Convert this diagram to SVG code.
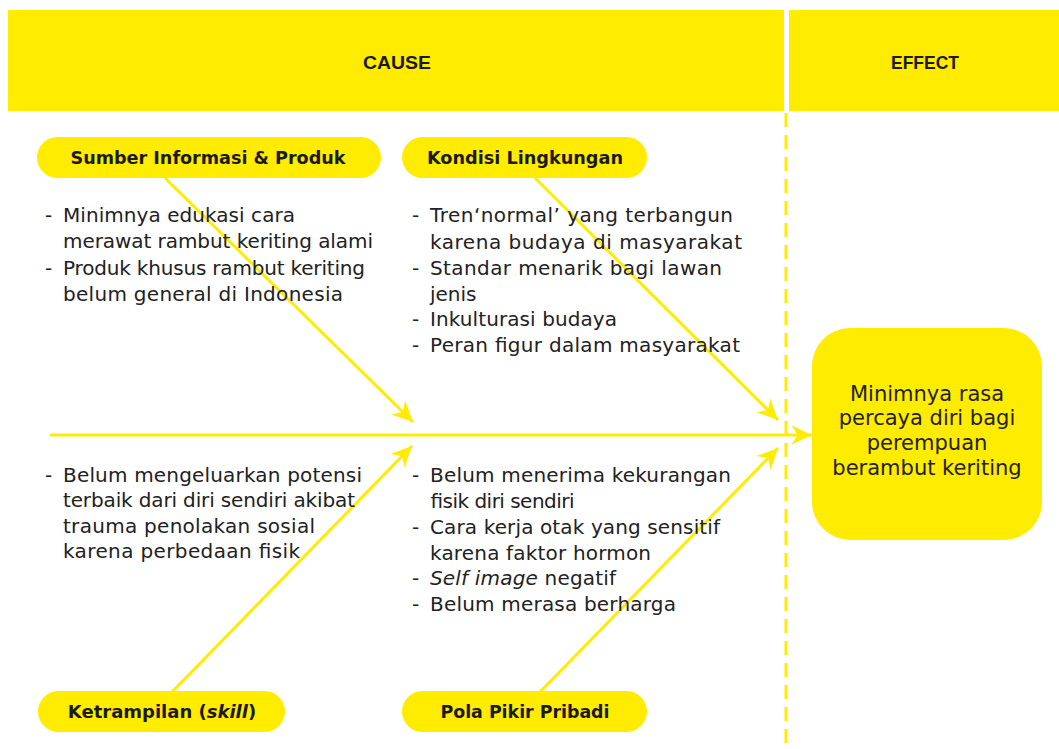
<svg xmlns="http://www.w3.org/2000/svg" width="1059" height="749" viewBox="0 0 1059 749">
  <style>
    .band { fill: #FFEC00; }
    .pill { fill: #FFEC00; }
    .hdr { font-family: "Liberation Sans", Arial, sans-serif; font-weight: bold; font-size: 19px; fill: #1a1a1a; text-anchor: middle; }
    .lbl { font-family: "DejaVu Sans", sans-serif; font-weight: bold; font-size: 18px; fill: #1a1a1a; text-anchor: middle; }
    .body { font-family: "DejaVu Sans", sans-serif; font-size: 20px; fill: #222222; }
    .eff { font-family: "DejaVu Sans", sans-serif; font-size: 21px; fill: #222222; text-anchor: middle; }
    .conn { stroke: #FFEC00; stroke-width: 3; fill: none; }
    .dash { stroke: #FFEC00; stroke-width: 3; fill: none; stroke-dasharray: 14 8; }
  </style>
  <defs>
    <marker id="ah" markerUnits="userSpaceOnUse" markerWidth="24" markerHeight="24" viewBox="-20 -10 22 20" refX="0" refY="0" orient="auto">
      <path d="M0,0 L-19,-9 L-13,0 L-19,9 Z" fill="#FFEC00"/>
    </marker>
  </defs>
  <rect width="1059" height="749" fill="#ffffff"/>

  <g id="header-cause">
    <rect class="band" x="8" y="10" width="776" height="101"/>
    <text class="hdr" x="397" y="69" textLength="68" lengthAdjust="spacingAndGlyphs">CAUSE</text>
  </g>
  <g id="header-effect">
    <rect class="band" x="789" y="10" width="270" height="101"/>
    <text class="hdr" x="925" y="69" textLength="68" lengthAdjust="spacingAndGlyphs">EFFECT</text>
  </g>

  <g id="connectors">
    <line class="dash" x1="786" y1="113" x2="786" y2="749"/>
    <line class="conn" x1="50" y1="435" x2="812" y2="435" marker-end="url(#ah)"/>
    <line class="conn" x1="165" y1="178" x2="413" y2="422" marker-end="url(#ah)"/>
    <line class="conn" x1="535" y1="178" x2="778" y2="420" marker-end="url(#ah)"/>
    <line class="conn" x1="172" y1="692" x2="412" y2="446" marker-end="url(#ah)"/>
    <line class="conn" x1="540" y1="692" x2="778" y2="448" marker-end="url(#ah)"/>
  </g>

  <g id="cat-sumber">
    <rect class="pill" x="37" y="137" width="344" height="41" rx="20.5"/>
    <text class="lbl" x="208" y="164" textLength="275" lengthAdjust="spacingAndGlyphs">Sumber Informasi &amp; Produk</text>
  </g>
  <g id="cat-kondisi">
    <rect class="pill" x="402" y="137" width="245" height="41" rx="20.5"/>
    <text class="lbl" x="525" y="164" textLength="196" lengthAdjust="spacingAndGlyphs">Kondisi Lingkungan</text>
  </g>
  <g id="cat-ketrampilan">
    <rect class="pill" x="38" y="691" width="247" height="41" rx="20.5"/>
    <text class="lbl" x="162" y="718">Ketrampilan (<tspan font-style="italic">skill</tspan>)</text>
  </g>
  <g id="cat-pola">
    <rect class="pill" x="402" y="691" width="245" height="41" rx="20.5"/>
    <text class="lbl" x="525" y="718" textLength="169" lengthAdjust="spacingAndGlyphs">Pola Pikir Pribadi</text>
  </g>

  <g id="notes-sumber" class="body">
    <text x="45" y="222">-</text>
    <text x="63" y="222" textLength="232" lengthAdjust="spacing">Minimnya edukasi cara</text>
    <text x="63" y="248" textLength="310" lengthAdjust="spacing">merawat rambut keriting alami</text>
    <text x="45" y="275">-</text>
    <text x="63" y="275" textLength="302" lengthAdjust="spacing">Produk khusus rambut keriting</text>
    <text x="63" y="301" textLength="280" lengthAdjust="spacing">belum general di Indonesia</text>
  </g>
  <g id="notes-kondisi" class="body">
    <text x="412" y="222">-</text>
    <text x="430" y="222" textLength="303" lengthAdjust="spacing">Tren‘normal’ yang terbangun</text>
    <text x="430" y="249" textLength="312" lengthAdjust="spacing">karena budaya di masyarakat</text>
    <text x="412" y="275">-</text>
    <text x="430" y="275" textLength="292" lengthAdjust="spacing">Standar menarik bagi lawan</text>
    <text x="430" y="301">jenis</text>
    <text x="412" y="326">-</text>
    <text x="430" y="326" textLength="187" lengthAdjust="spacing">Inkulturasi budaya</text>
    <text x="412" y="352">-</text>
    <text x="430" y="352" textLength="310" lengthAdjust="spacing">Peran figur dalam masyarakat</text>
  </g>
  <g id="notes-ketrampilan" class="body">
    <text x="45" y="482">-</text>
    <text x="63" y="482" textLength="299" lengthAdjust="spacing">Belum mengeluarkan potensi</text>
    <text x="63" y="507" textLength="292" lengthAdjust="spacing">terbaik dari diri sendiri akibat</text>
    <text x="63" y="533" textLength="252" lengthAdjust="spacing">trauma penolakan sosial</text>
    <text x="63" y="558" textLength="237" lengthAdjust="spacing">karena perbedaan fisik</text>
  </g>
  <g id="notes-pola" class="body">
    <text x="412" y="482">-</text>
    <text x="430" y="482" textLength="301" lengthAdjust="spacing">Belum menerima kekurangan</text>
    <text x="430" y="508" textLength="144" lengthAdjust="spacing">fisik diri sendiri</text>
    <text x="412" y="534">-</text>
    <text x="430" y="534" textLength="290" lengthAdjust="spacing">Cara kerja otak yang sensitif</text>
    <text x="430" y="560" textLength="221" lengthAdjust="spacing">karena faktor hormon</text>
    <text x="412" y="585">-</text>
    <text x="430" y="585" textLength="186" lengthAdjust="spacing"><tspan font-style="italic">Self image</tspan> negatif</text>
    <text x="412" y="611">-</text>
    <text x="430" y="611" textLength="246" lengthAdjust="spacing">Belum merasa berharga</text>
  </g>

  <g id="effect">
    <rect class="pill" x="812" y="328" width="230" height="212" rx="38"/>
    <text class="eff" x="927" y="401">Minimnya rasa</text>
    <text class="eff" x="927" y="425">percaya diri bagi</text>
    <text class="eff" x="927" y="450">perempuan</text>
    <text class="eff" x="927" y="475">berambut keriting</text>
  </g>
</svg>
